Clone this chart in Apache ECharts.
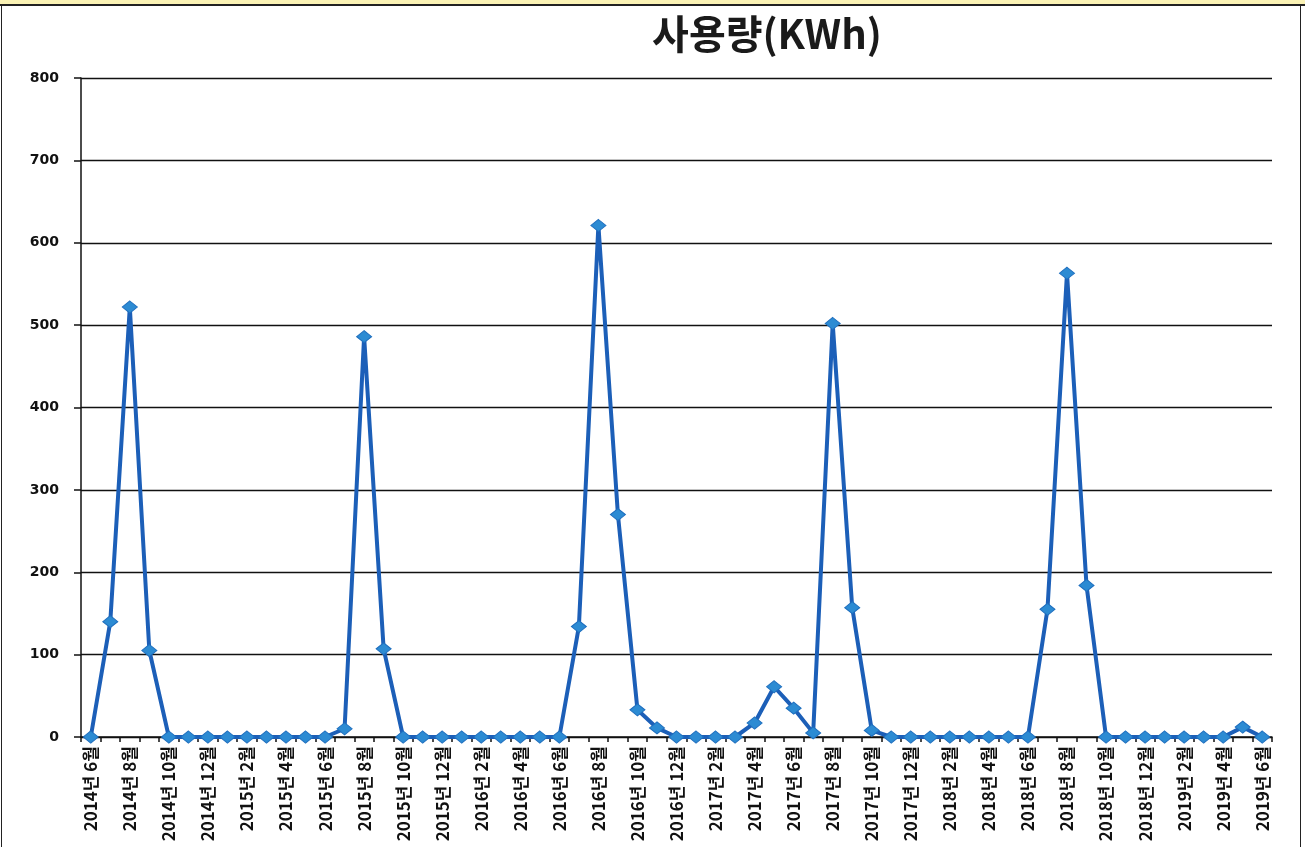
<!DOCTYPE html>
<html>
<head>
<meta charset="utf-8">
<script src="https://cdn.jsdelivr.net/npm/echarts@6/dist/echarts.min.js"></script>
<style>
  html, body { margin: 0; padding: 0; background: #fff; }
  .frame { position: relative; width: 1305px; height: 847px; box-sizing: border-box; overflow: hidden; }
  .band { position: absolute; left: 0; top: 0; width: 1305px; height: 6px; background: #fbf3b5; border-bottom: 2px solid #222; box-sizing: border-box; }
  .box { position: absolute; left: 1px; top: 5px; width: 1300px; height: 850px; border: 1.5px solid #222; box-sizing: border-box; }
  #chart { position: absolute; left: 0; top: 0; width: 1305px; height: 847px; }
</style>
</head>
<body>
<div class="frame">
  <div class="band"></div>
  <div class="box"></div>
  <div id="chart"></div>
</div>
<script>
// 2014년 6월 ~ 2019년 6월, monthly
const months = []
for (let y = 2014; y <= 2019; y++) {
  for (let m = 1; m <= 12; m++) {
    if (y === 2014 && m < 6) continue
    if (y === 2019 && m > 6) continue
    months.push(y + '년 ' + m + '월')
  }
}

const usage = [
  0, 140, 522, 105, 0, 0, 0,            // 2014-06 .. 2014-12
  0, 0, 0, 0, 0, 0, 10, 486, 107, 0, 0, 0, // 2015
  0, 0, 0, 0, 0, 0, 134, 621, 270, 33, 11, 0, // 2016
  0, 0, 0, 17, 61, 35, 5, 502, 157, 8, 0, 0,  // 2017
  0, 0, 0, 0, 0, 0, 155, 563, 184, 0, 0, 0,   // 2018
  0, 0, 0, 0, 12, 0                           // 2019-01 .. 2019-06
]

const yTicks = [0, 100, 200, 300, 400, 500, 600, 700, 800]

const chart = echarts.init(document.getElementById('chart'), null, { renderer: 'canvas' })

const option = {
  backgroundColor: 'transparent',
  animation: false,
  title: {
    text: '사용량(KWh)',
    left: 762,
    top: 9,
    textAlign: 'center',
    textStyle: {
      fontFamily: 'Noto Sans CJK KR',
      fontSize: 40,
      fontWeight: 'bold',
      color: '#1a1a1a'
    }
  },
  grid: {
    left: 81,
    right: 33,
    top: 78,
    bottom: 110,
    containLabel: false
  },
  xAxis: {
    type: 'category',
    data: months,
    boundaryGap: true,
    axisLine: { show: true, lineStyle: { color: '#111', width: 1.5 } },
    axisTick: { show: true, interval: 0, length: 5, lineStyle: { color: '#111', width: 1.5 } },
    axisLabel: {
      interval: 1,
      rotate: 90,
      margin: 9,
      color: '#111',
      fontFamily: 'Noto Sans CJK KR',
      fontWeight: 'bold',
      fontSize: 17
    },
    splitLine: { show: false }
  },
  yAxis: {
    type: 'value',
    min: 0,
    max: yTicks[yTicks.length - 1],
    interval: yTicks[1] - yTicks[0],
    axisLine: { show: true, lineStyle: { color: '#111', width: 1.5 } },
    axisTick: { show: true, length: 7, lineStyle: { color: '#111', width: 1.5 } },
    axisLabel: {
      margin: 22,
      color: '#111',
      fontFamily: 'DejaVu Sans',
      fontWeight: 'bold',
      fontSize: 14
    },
    splitLine: { show: true, lineStyle: { color: '#111', width: 1.3 } }
  },
  series: [{
    name: '사용량',
    type: 'line',
    data: usage,
    symbol: 'diamond',
    symbolSize: [15, 12],
    showAllSymbol: true,
    lineStyle: { color: '#1c5fb8', width: 4 },
    itemStyle: { color: '#2c8bd3', borderColor: '#1f6fbf', borderWidth: 1 },
    z: 3
  }]
}

chart.setOption(option)
</script>
</body>
</html>
